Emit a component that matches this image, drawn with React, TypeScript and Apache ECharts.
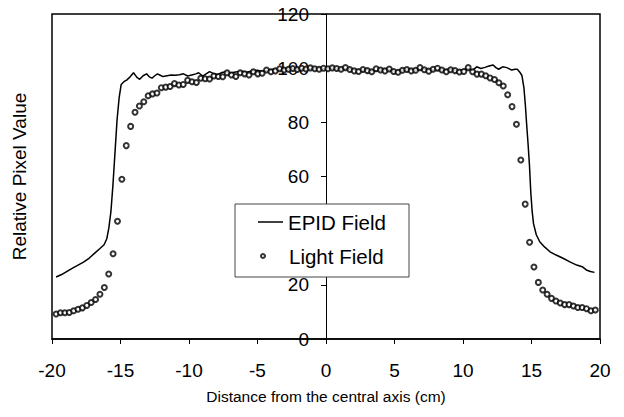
import React, { useEffect, useRef } from "react";
import * as echarts from "echarts";

const FONT = "'Liberation Sans', Arial, Helvetica, sans-serif";

const xTicks = [-20, -15, -10, -5, 0, 5, 10, 15, 20];
const yTicks = [0, 20, 40, 60, 80, 100, 120];
// the 40 tick label sits behind the legend box in the reference
const yHiddenLabels = [40];

const epidX = [
  -19.7, -19.3, -18.9, -18.5, -18.1, -17.7, -17.3, -16.9, -16.5, -16.2, -16.0, -15.85, -15.7, -15.55, -15.4,
  -15.25, -15.1, -14.95, -14.75, -14.55, -14.3, -14.05, -13.8, -13.6, -13.35, -13.1, -12.9, -12.7, -12.5,
  -12.3, -12.1, -11.9, -11.6, -11.3, -11.0, -10.7, -10.4, -10.1, -9.8, -9.5, -9.3, -9.0, -8.75, -8.5, -8.2,
  -7.9, -7.6, -7.3, -7.0, -6.6, -6.2, -5.8, -5.4, -5.0, -4.6, -4.2, -3.8, -3.4, -3.0, -2.5, -2.0, -1.5, -1.0,
  -0.5, 0.0, 0.5, 1.0, 1.5, 2.0, 2.5, 3.0, 3.5, 4.0, 4.5, 5.0, 5.5, 6.0, 6.5, 7.0, 7.5, 8.0, 8.5, 9.0, 9.5,
  10.0, 10.4, 10.7, 11.0, 11.3, 11.6, 11.9, 12.2, 12.4, 12.6, 12.9, 13.2, 13.55, 13.8, 13.96, 14.15, 14.3,
  14.45, 14.55, 14.65, 14.75, 14.85, 14.95, 15.05, 15.15, 15.35, 15.6, 15.95, 16.35, 16.8, 17.3, 17.8, 18.3,
  18.7, 19.0, 19.3, 19.6,
];
const epidY = [
  22.9, 23.8, 25.0, 26.2, 27.3, 28.4, 29.8, 31.6, 33.4, 34.8, 37.0, 41.0, 47.0, 57.0, 69.0,
  81.0, 89.0, 94.0, 95.0, 95.6, 96.8, 98.3, 96.6, 95.9, 97.2, 97.9, 96.8, 96.3, 97.2,
  97.9, 97.4, 96.9, 97.2, 97.5, 97.4, 97.6, 97.9, 97.1, 97.5, 97.9, 98.3, 97.1, 97.9, 98.7, 98.0,
  97.6, 98.4, 98.7, 98.2, 98.6, 98.9, 98.5, 99.0, 99.2, 98.8, 99.3, 99.6, 99.3, 99.7, 99.9, 99.6, 100.0, 99.8,
  100.1, 99.8, 100.0, 99.7, 99.9, 99.4, 99.1, 99.5, 98.9, 99.3, 99.6, 98.9, 99.2, 99.6, 99.1, 99.7, 99.3, 99.5, 99.2, 99.6, 99.0,
  99.4, 99.8, 99.2, 100.5, 99.9, 100.3, 100.8, 101.2, 100.2, 99.6, 100.5, 100.2, 99.3, 99.6, 99.6, 98.5, 97.3,
  92.6, 86.5, 79.0, 72.0, 64.3, 54.0, 47.0, 42.5, 38.5, 35.9, 34.0, 32.2, 31.0, 29.8, 28.5, 27.3,
  26.7, 25.5, 24.9, 24.6,
];

const lightX = [
  -19.7, -19.38, -19.06, -18.74, -18.42, -18.1, -17.78, -17.46, -17.14, -16.82, -16.5, -16.18, -15.86, -15.54,
  -15.22, -14.9, -14.58, -14.26, -13.94, -13.62, -13.3, -12.98, -12.66, -12.34, -12.02, -11.7, -11.38, -11.06,
  -10.74, -10.42, -10.1, -9.78, -9.46, -9.14, -8.82, -8.5, -8.18, -7.86, -7.54, -7.22, -6.9, -6.58, -6.26,
  -5.94, -5.62, -5.3, -4.98, -4.66, -4.34, -4.02, -3.7, -3.38, -3.06, -2.74, -2.42, -2.1, -1.78, -1.46, -1.14,
  -0.82, -0.5, -0.18, 0.14, 0.46, 0.78, 1.1, 1.42, 1.74, 2.06, 2.38, 2.7, 3.02, 3.34, 3.66, 3.98, 4.3, 4.62,
  4.94, 5.26, 5.58, 5.9, 6.22, 6.54, 6.86, 7.18, 7.5, 7.82, 8.14, 8.46, 8.78, 9.1, 9.42, 9.74, 10.06, 10.38,
  10.7, 11.02, 11.34, 11.66, 11.98, 12.3, 12.62, 12.94, 13.26, 13.58, 13.9, 14.22, 14.54, 14.86, 15.18, 15.5,
  15.82, 16.14, 16.46, 16.78, 17.1, 17.42, 17.74, 18.06, 18.38, 18.7, 19.02, 19.34, 19.66,
];
const lightY = [
  9.2, 9.7, 9.7, 9.8, 10.4, 11.0, 11.5, 12.4, 13.5, 14.6, 16.5, 19.0, 24.0, 31.5,
  43.5, 59.0, 71.4, 78.5, 83.7, 86.0, 87.6, 89.8, 90.5, 90.8, 92.8, 93.0, 93.2, 94.3,
  93.8, 94.0, 95.5, 95.0, 94.7, 96.3, 96.1, 96.0, 97.1, 96.9, 96.8, 98.3, 97.5, 96.9, 98.3,
  97.9, 97.5, 98.7, 97.9, 98.1, 99.3, 98.7, 99.0, 99.8, 99.3, 99.6, 99.9, 99.5, 100.0, 99.7, 100.1,
  99.8, 99.6, 100.0, 99.8, 100.1, 99.9, 99.6, 100.2, 99.5, 99.0, 98.8, 99.5, 99.1, 98.7, 99.8, 99.3, 99.0, 99.7,
  98.8, 98.5, 99.2, 99.5, 99.0, 99.2, 100.2, 99.4, 98.9, 99.6, 100.0, 99.3, 98.7, 99.4, 99.1, 98.6, 98.8, 100.2,
  98.7, 97.8, 97.8, 97.2, 96.4, 95.8, 94.6, 93.4, 90.2, 85.8, 79.3, 66.1, 49.8, 35.7, 26.6, 20.9,
  18.1, 16.5, 15.0, 14.0, 13.3, 12.7, 12.7, 12.2, 11.6, 11.6, 11.2, 10.4, 10.7,
];

const seriesNames = ["EPID Field", "Light Field"];

export default function App() {
  const ref = useRef<HTMLDivElement>(null);
  useEffect(() => {
    if (!ref.current) return;
    const chart = echarts.init(ref.current, undefined, { renderer: "svg" });
    const epidData = epidX.map((x, i) => [x, epidY[i]]);
    const lightData = lightX.map((x, i) => [x, lightY[i]]);
    chart.setOption({
      animation: false,
      backgroundColor: "#fff",
      textStyle: { fontFamily: FONT, color: "#000" },
      grid: {
        left: 52,
        right: 24,
        top: 14,
        bottom: 78,
        containLabel: false,
        outerBoundsMode: "none",
        show: true,
        borderColor: "#000",
        borderWidth: 1.5,
        backgroundColor: "transparent",
      },
      xAxis: {
        type: "value",
        min: xTicks[0],
        max: xTicks[xTicks.length - 1],
        interval: 5,
        name: "Distance from the central axis (cm)",
        nameLocation: "middle",
        nameGap: 49,
        nameMoveOverlap: false,
        nameTextStyle: { fontSize: 15.5, color: "#000", fontFamily: FONT },
        axisLine: { lineStyle: { color: "#000", width: 1.5 } },
        axisTick: { show: true, length: 5, lineStyle: { color: "#000" } },
        axisLabel: { fontSize: 19, color: "#000", margin: 22, fontFamily: FONT },
        splitLine: { show: false },
      },
      yAxis: {
        type: "value",
        min: yTicks[0],
        max: yTicks[yTicks.length - 1],
        interval: 20,
        offset: -274,
        name: "Relative Pixel Value",
        nameLocation: "middle",
        nameGap: 297,
        nameMoveOverlap: false,
        nameTextStyle: { fontSize: 19, color: "#000", fontFamily: FONT },
        axisLine: { show: true, onZero: false, lineStyle: { color: "#000", width: 1 } },
        axisTick: { show: true, length: 5, lineStyle: { color: "#000" } },
        axisLabel: {
          fontSize: 19,
          color: "#000",
          margin: 17,
          fontFamily: FONT,
          formatter: (v: number) => (yHiddenLabels.includes(v) ? "" : String(v)),
        },
        splitLine: { show: false },
      },
      legend: [
        {
          data: [{ name: seriesNames[0], icon: "rect" }],
          left: 258,
          top: 211.5,
          padding: 0,
          itemWidth: 25,
          itemHeight: 1.5,
          textStyle: { fontSize: 20.5, color: "#000", fontFamily: FONT },
        },
        {
          data: [{ name: seriesNames[1], icon: "emptyCircle" }],
          left: 260,
          top: 245.5,
          padding: 0,
          itemWidth: 4,
          itemHeight: 4,
          textStyle: { fontSize: 20.5, color: "#000", fontFamily: FONT, padding: [0, 0, 0, 19] },
        },
      ],
      graphic: [
        {
          type: "rect",
          z: 3,
          shape: { x: 235, y: 204, width: 174, height: 73 },
          style: { fill: "#fff", stroke: "#444", lineWidth: 1 },
        },
      ],
      series: [
        {
          name: seriesNames[0],
          type: "line",
          data: epidData,
          showSymbol: false,
          symbol: "none",
          lineStyle: { color: "#000", width: 1.5 },
          itemStyle: { color: "#000" },
          z: 2,
        },
        {
          name: seriesNames[1],
          type: "scatter",
          data: lightData,
          symbol: "emptyCircle",
          symbolSize: 5,
          itemStyle: { color: "#000", borderColor: "#000", borderWidth: 1.3 },
          z: 2,
        },
      ],
    });
    return () => chart.dispose();
  }, []);
  return (
    <div
      ref={ref}
      style={{ position: "fixed", left: 0, top: 0, width: 624, height: 417, background: "#fff" }}
    />
  );
}
